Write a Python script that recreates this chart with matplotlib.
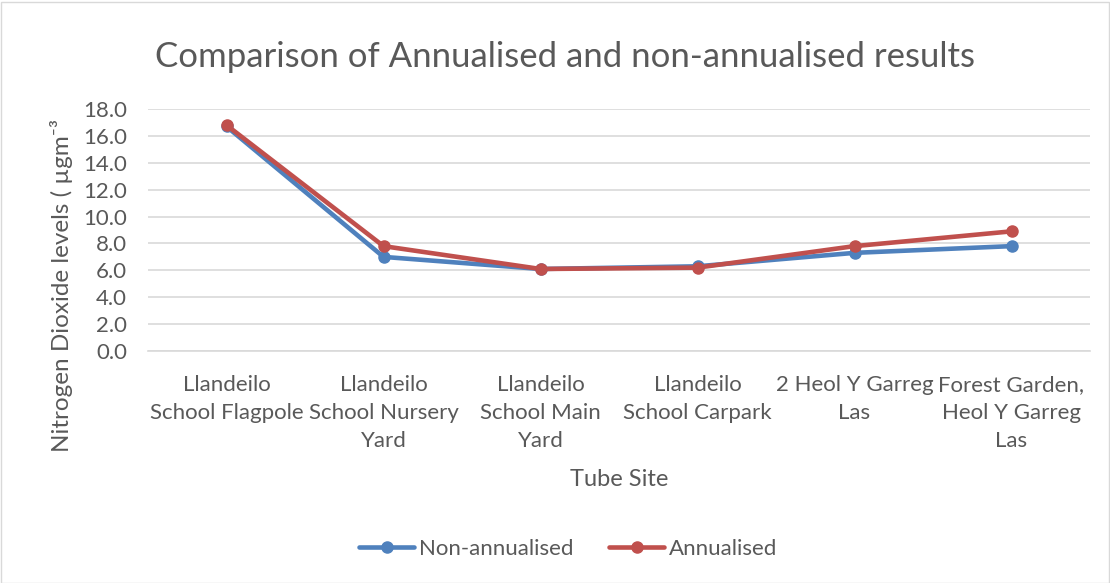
import matplotlib
matplotlib.use("Agg")
import matplotlib.pyplot as plt
from matplotlib.patches import Rectangle

sites = [
    "Llandeilo\nSchool Flagpole",
    "Llandeilo\nSchool Nursery\nYard",
    "Llandeilo\nSchool Main\nYard",
    "Llandeilo\nSchool Carpark",
    "2 Heol Y Garreg\nLas",
    "Forest Garden,\nHeol Y Garreg\nLas",
]
non_annualised = [16.7, 7.0, 6.1, 6.3, 7.3, 7.8]
annualised = [16.8, 7.8, 6.1, 6.2, 7.8, 8.9]
y_ticks = [0, 2, 4, 6, 8, 10, 12, 14, 16, 18]

plt.rcParams["font.family"] = ["Lato", "DejaVu Sans"]
text_grey = "#595959"

W, H = 1110, 583
fig = plt.figure(figsize=(W / 100, H / 100), dpi=100)
fig.patches.append(Rectangle((0.5 / W, 0.5 / H), 1 - 2 / W, 1 - 2 / H,
                             transform=fig.transFigure, fill=False,
                             edgecolor="#d9d9d9", linewidth=1))

left, right, top, bottom = 148, 1090, 109, 351
ax = fig.add_axes([left / W, 1 - bottom / H, (right - left) / W, (bottom - top) / H])

x = list(range(len(sites)))
ax.plot(x, non_annualised, color="#4F81BD", linewidth=3.3, marker="o",
        markersize=8, label="Non-annualised", solid_capstyle="round", zorder=3)
ax.plot(x, annualised, color="#C0504D", linewidth=3.3, marker="o",
        markersize=8, label="Annualised", solid_capstyle="round", zorder=4)

ax.set_xlim(-0.5, len(sites) - 0.5)
ax.set_ylim(0, 18)
ax.set_yticks(y_ticks)
ax.set_yticklabels([f"{v:.1f}" for v in y_ticks])
ax.set_xticks(x)
ax.set_xticklabels(sites, linespacing=1.5)
ax.grid(axis="y", color="#d9d9d9", linewidth=1.2)
ax.set_axisbelow(True)
for s in ("top", "right", "left"):
    ax.spines[s].set_visible(False)
ax.spines["bottom"].set_color("#d9d9d9")
ax.spines["bottom"].set_linewidth(1.2)
ax.tick_params(axis="both", length=0, labelsize=16, colors=text_grey)
ax.tick_params(axis="y", pad=15)
ax.tick_params(axis="x", pad=17)

fig.text(565 / W, 1 - 57 / H, "Comparison of Annualised and non-annualised results",
         ha="center", va="center", fontsize=25, color=text_grey)
fig.text(619 / W, 1 - 480 / H, "Tube Site", ha="center", va="center",
         fontsize=17, color=text_grey)
fig.text(62 / W, 1 - 286 / H, "Nitrogen Dioxide levels ( µgm⁻³",
         ha="center", va="center", rotation=90, fontsize=17.5, color=text_grey)

fig.legend(loc="center", bbox_to_anchor=(568 / W, 1 - 549 / H), ncol=2,
           frameon=False, fontsize=16, labelcolor=text_grey, handlelength=2.5,
           columnspacing=1.6, handletextpad=0.2)

fig.savefig("out.png", dpi=100)
